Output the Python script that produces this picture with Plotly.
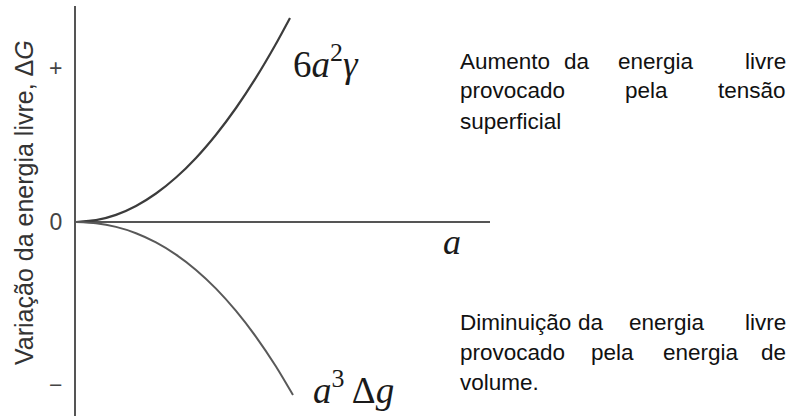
import plotly.graph_objects as go

# Curve samples (a, ΔG) in arbitrary units
surface_a = [0, 2, 4, 6, 8, 10, 12, 14, 16, 18, 20, 21.4]
surface_dg = [0, 0.18, 0.71, 1.6, 2.85, 4.45, 6.41, 8.73, 11.4, 14.43, 17.82, 20.4]

volume_a = [0, 2, 4, 6, 8, 10, 12, 14, 16, 18, 20, 21.7]
volume_dg = [0, -0.12, -0.49, -1.12, -2.04, -3.26, -4.79, -6.66, -8.89, -11.48, -14.45, -17.3]

tick_vals = [15.4, 0, -16.3]
tick_text = ["+", "0", "\u2212"]

# Layout geometry (pixels)
W, H = 794, 416
ML, MR, MT, MB = 76, 304, 6, 0
PW = W - ML - MR
PH = H - MT - MB

X_RANGE = [0, PW / 10]
Y_RANGE = [-(H - MB - 222) / 10, (222 - MT) / 10]


def px(p):
    return (p - ML) / PW


def py(p):
    return (H - MB - p) / PH


fig = go.Figure()
fig.add_trace(go.Scatter(x=surface_a, y=surface_dg, mode="lines",
                         line=dict(color="#3c3c3c", width=2.2, shape="spline",
                                   smoothing=0.6),
                         hoverinfo="skip"))
fig.add_trace(go.Scatter(x=volume_a, y=volume_dg, mode="lines",
                         line=dict(color="#595959", width=2.0, shape="spline",
                                   smoothing=0.6),
                         hoverinfo="skip"))

serif = "Liberation Serif, DejaVu Serif, serif"
sans = "Liberation Sans, Arial, sans-serif"

annotations = [
    dict(x=21.5, y=16.1, xref="x", yref="y", xanchor="left", yanchor="middle",
         text="6<i>a</i><sup>2</sup><i>γ</i>", showarrow=False,
         font=dict(family=serif, size=37, color="#1a1a1a")),
    dict(x=37.6, y=-2.0, xref="x", yref="y", xanchor="center", yanchor="middle",
         text="<i>a</i>", showarrow=False,
         font=dict(family=serif, size=36, color="#1a1a1a")),
    dict(x=23.5, y=-16.5, xref="x", yref="y", xanchor="left", yanchor="middle",
         text="<i>a</i><sup>3</sup>\u2009Δ<i>g</i>", showarrow=False,
         font=dict(family=serif, size=37, color="#1a1a1a")),
    dict(x=px(24), y=py(203), xref="paper", yref="paper", xanchor="center",
         yanchor="middle", textangle=-90, showarrow=False,
         text="Variação da energia livre, Δ<i>G</i>",
         font=dict(family=sans, size=25, color="#333333")),
]

# Justified descriptive text: each word placed on its line
LEFT, RIGHT = 458, 788
text_lines = [
    (61, [("Aumento", "l", LEFT), ("da", "c", 577), ("energia", "c", 656), ("livre", "r", RIGHT)]),
    (91, [("provocado", "l", LEFT), ("pela", "c", 646), ("tensão", "r", RIGHT)]),
    (121, [("superficial", "l", LEFT)]),
    (322, [("Diminuição", "l", LEFT), ("da", "c", 591), ("energia", "c", 667), ("livre", "r", RIGHT)]),
    (352, [("provocado", "l", LEFT), ("pela", "c", 612), ("energia", "c", 701), ("de", "r", RIGHT)]),
    (382, [("volume.", "l", LEFT)]),
]
anchor = {"l": "left", "c": "center", "r": "right"}
for yline, words in text_lines:
    for word, a, xp in words:
        annotations.append(dict(
            x=px(xp), y=py(yline), xref="paper", yref="paper",
            xanchor=anchor[a], yanchor="middle", text=word, showarrow=False,
            font=dict(family=sans, size=22.5, color="#111111")))

fig.update_layout(
    width=W, height=H,
    margin=dict(l=ML, r=MR, t=MT, b=MB, pad=0),
    paper_bgcolor="white", plot_bgcolor="white",
    showlegend=False,
    annotations=annotations,
    xaxis=dict(range=X_RANGE, showgrid=False, zeroline=False, showline=False,
               showticklabels=False, ticks="", fixedrange=True),
    yaxis=dict(range=Y_RANGE, showgrid=False, zeroline=True,
               zerolinecolor="#555555", zerolinewidth=2,
               showline=True, linecolor="#555555", linewidth=2,
               tickvals=tick_vals, ticktext=tick_text, ticks="",
               ticklabelstandoff=7,
               tickfont=dict(family=sans, size=23, color="#444444"),
               fixedrange=True),
)

fig.write_html("out.html", config={"displayModeBar": False})
